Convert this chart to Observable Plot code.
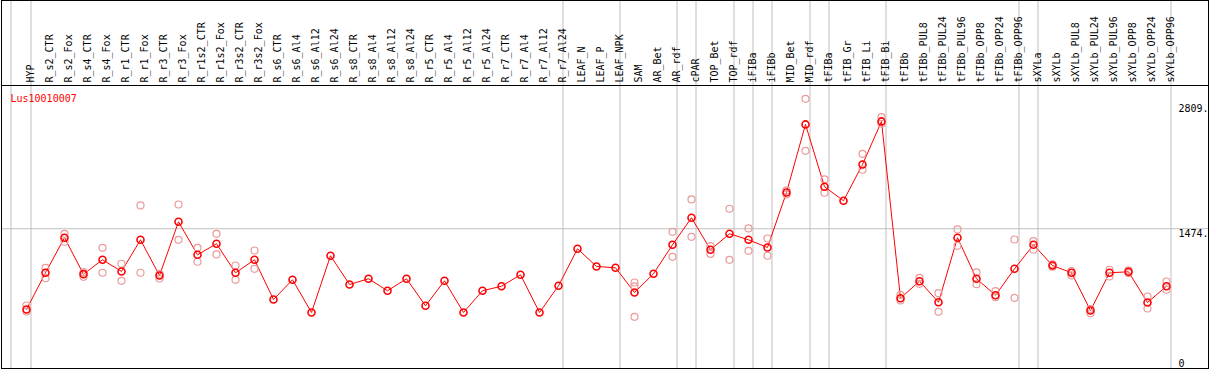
<!DOCTYPE html>
<html><head><meta charset="utf-8">
<script src="https://cdn.jsdelivr.net/npm/d3@7"></script>
<script src="https://cdn.jsdelivr.net/npm/@observablehq/plot@0.6"></script>
<style>html,body{margin:0;padding:0;background:#fff}</style>
</head><body><div id="chart"></div>
<script>
const columns = ["HYP","R_s2_CTR","R_s2_Fox","R_s4_CTR","R_s4_Fox","R_r1_CTR","R_r1_Fox","R_r3_CTR","R_r3_Fox","R_r1s2_CTR","R_r1s2_Fox","R_r3s2_CTR","R_r3s2_Fox","R_s6_CTR","R_s6_Al4","R_s6_Al12","R_s6_Al24","R_s8_CTR","R_s8_Al4","R_s8_Al12","R_s8_Al24","R_r5_CTR","R_r5_Al4","R_r5_Al12","R_r5_Al24","R_r7_CTR","R_r7_Al4","R_r7_Al12","R_r7_Al24","LEAF_N","LEAF_P","LEAF_NPK","SAM","AR_Bet","AR_rdf","cPAR","TOP_Bet","TOP_rdf","iFIBa","iFIBb","MID_Bet","MID_rdf","tFIBa","tFIB_Gr","tFIB_Li","tFIB_Bi","tFIBb","tFIBb_PUL8","tFIBb_PUL24","tFIBb_PUL96","tFIBb_OPP8","tFIBb_OPP24","tFIBb_OPP96","sXYLa","sXYLb","sXYLb_PUL8","sXYLb_PUL24","sXYLb_PUL96","sXYLb_OPP8","sXYLb_OPP24","sXYLb_OPP96"];
const means = [614,1005,1378,990,1143,1019,1356,976,1548,1196,1314,1005,1143,720,930,582,1186,880,941,813,941,653,919,582,813,862,983,582,866,1260,1072,1058,795,994,1303,1591,1250,1420,1356,1274,1860,2585,1921,1772,2158,2617,734,915,691,1378,941,766,1047,1303,1082,1005,603,1005,1015,688,862];
const rep1 = [656,1058,1420,1011,1271,1101,1722,994,1732,1271,1420,1082,1242,null,null,null,null,null,null,null,null,null,null,null,null,null,null,null,null,null,null,null,901,null,1441,1786,1288,1687,1477,1370,1882,2858,1999,null,2272,2662,770,951,787,1466,1008,809,1359,1341,1095,1022,621,1037,1030,752,912];
const rep2 = [592,947,1335,962,1005,919,1005,944,1356,1122,1200,930,1047,null,null,null,null,null,null,null,null,null,null,null,null,null,null,null,null,null,null,null,536,null,1175,1388,1207,1143,1239,1186,1839,2304,1857,null,2102,2592,710,887,589,1292,883,745,738,1250,1070,976,574,965,1000,624,824];
const rep3 = columns.map(c => c === "SAM" ? 859 : null);
const groupEnds = ["HYP","R_r7_Al24","LEAF_NPK","AR_rdf","cPAR","TOP_rdf","iFIBa","iFIBb","MID_rdf","tFIBa","tFIB_Bi","tFIBb_OPP96","sXYLa","sXYLb_OPP96"];
const yTicks = [0, 1474, 2809];
const geneLabel = "Lus10010007";

const rows = columns.map((col, i) => ({col, mean: means[i]}));
const reps = [];
[rep1, rep2, rep3].forEach(arr => arr.forEach((v, i) => { if (v != null) reps.push({col: columns[i], value: v}); }));

const grid = "#c0c0c0";
const chart = Plot.plot({
  width: 1209, height: 370,
  marginTop: 85, marginBottom: 2, marginLeft: 1, marginRight: 1,
  x: {type: "point", domain: columns, range: [26, 1166], padding: 0, axis: null},
  y: {domain: [0, 2990], range: [366.6, 85.9], axis: null},
  style: {fontFamily: "DejaVu Sans Mono", fontSize: "10px", background: "white"},
  marks: [
    Plot.ruleX(groupEnds, {x: d => d, dx: 4.5, stroke: grid, strokeWidth: 1, insetTop: -85}),
    Plot.ruleX([columns[0]], {x: d => d, dx: -15.5, stroke: grid, strokeWidth: 1, insetTop: -85}),
    Plot.ruleY([yTicks[1]], {y: d => d, stroke: grid, strokeWidth: 1}),
    Plot.frame({stroke: "black", strokeWidth: 1, insetTop: -85}),
    Plot.frame({anchor: "top", stroke: "black", strokeWidth: 1}),
    Plot.text(columns, {x: d => d, text: d => d, frameAnchor: "top", rotate: -90, textAnchor: "start", dy: -3, fill: "black"}),
    Plot.text([geneLabel], {text: d => d, frameAnchor: "top-left", dx: 9, dy: 9, textAnchor: "start", lineAnchor: "top", fill: "red"}),
    Plot.text(yTicks.filter(v => v > 0), {y: d => d, text: d => d + ".", frameAnchor: "right", dx: -30, textAnchor: "start", lineAnchor: "top", dy: 1, fill: "black"}),
    Plot.text(yTicks.filter(v => v === 0), {y: d => d, text: d => String(d), frameAnchor: "right", dx: -30, textAnchor: "start", lineAnchor: "top", dy: -7.5, fill: "black"}),
    Plot.line(rows, {x: "col", y: "mean", stroke: "red", strokeWidth: 1}),
    Plot.dot(reps, {x: "col", y: "value", r: 3.5, stroke: "#eb9a9a", strokeWidth: 1.2}),
    Plot.dot(rows, {x: "col", y: "mean", r: 3.5, stroke: "red", strokeWidth: 1.6})
  ]
});
document.getElementById("chart").appendChild(chart);
</script>
</body></html>
